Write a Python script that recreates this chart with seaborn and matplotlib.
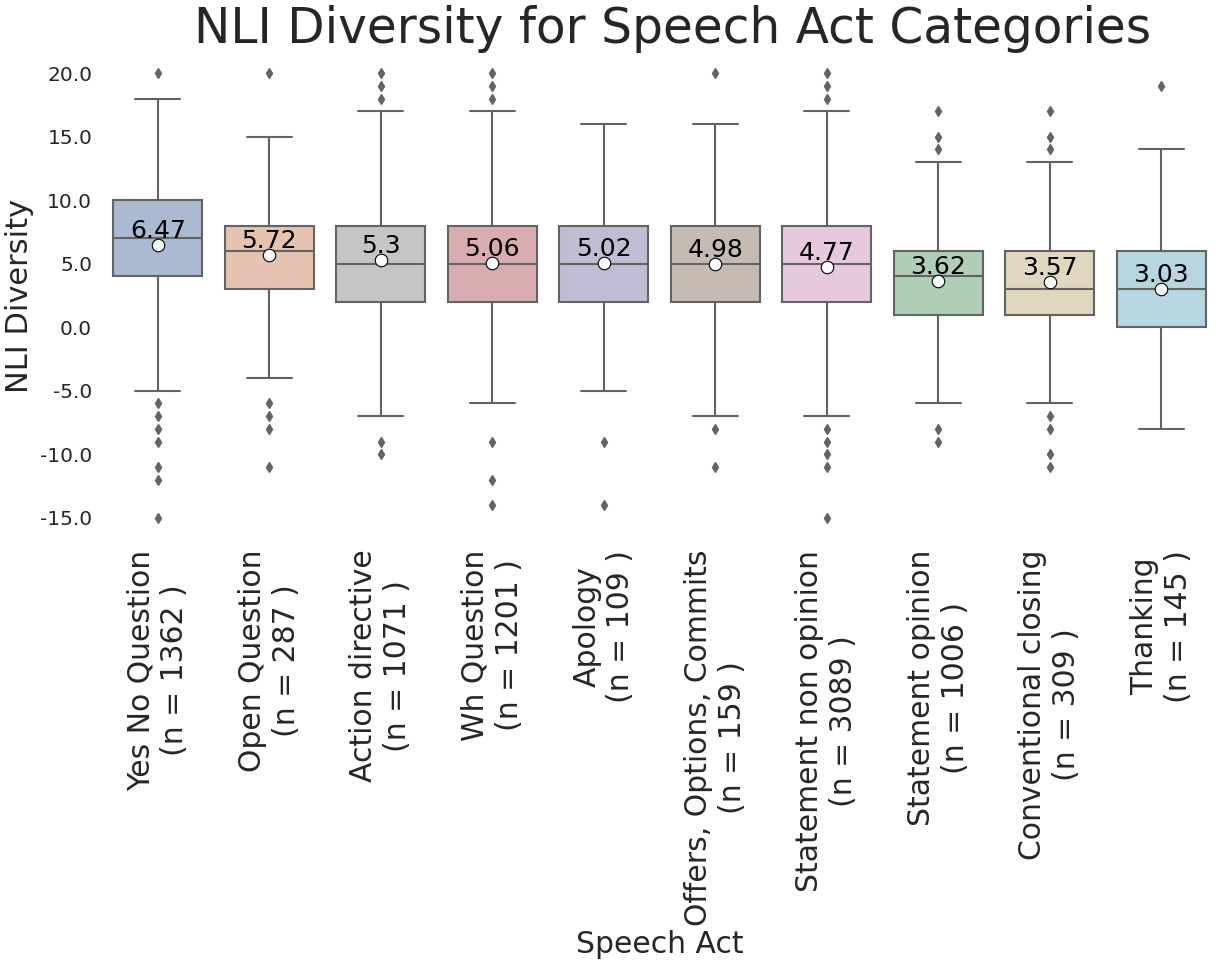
import matplotlib
matplotlib.use("Agg")
import matplotlib.pyplot as plt
from matplotlib.colors import to_rgba
import seaborn as sns

# Speech act categories and box statistics
acts = ["Yes No Question", "Open Question", "Action directive", "Wh Question",
        "Apology", "Offers, Options, Commits", "Statement non opinion",
        "Statement opinion", "Conventional closing", "Thanking"]
counts = [1362, 287, 1071, 1201, 109, 159, 3089, 1006, 309, 145]
means = [6.47, 5.72, 5.3, 5.06, 5.02, 4.98, 4.77, 3.62, 3.57, 3.03]
medians = [7, 6, 5, 5, 5, 5, 5, 4, 3, 3]
q1 = [4, 3, 2, 2, 2, 2, 2, 1, 1, 0]
q3 = [10, 8, 8, 8, 8, 8, 8, 6, 6, 6]
whisker_lo = [-5, -4, -7, -6, -5, -7, -7, -6, -6, -8]
whisker_hi = [18, 15, 17, 17, 16, 16, 17, 13, 13, 14]
outliers = [
    [20, -6, -7, -8, -9, -11, -12, -15],
    [20, -6, -7, -8, -11],
    [20, 19, 18, -9, -10],
    [20, 19, 18, -9, -12, -14],
    [-9, -14],
    [20, -8, -11],
    [20, 19, 18, -8, -9, -10, -11, -15],
    [17, 15, 14, -8, -9],
    [17, 15, 14, -7, -8, -10, -11],
    [19],
]
# which colour of the "deep" palette each box got
palette_idx = [0, 1, 7, 3, 4, 5, 6, 2, 8, 9]

sns.set_theme(style="white")
plt.rcParams["axes.unicode_minus"] = False

deep = sns.color_palette("deep")
colors = [to_rgba(sns.desaturate(deep[i], 0.75), 0.5) for i in palette_idx]
line_gray = "0.39"

stats = []
for i in range(len(acts)):
    stats.append({
        "label": f"{acts[i]}\n(n = {counts[i]} )",
        "med": medians[i], "q1": q1[i], "q3": q3[i],
        "whislo": whisker_lo[i], "whishi": whisker_hi[i],
        "fliers": outliers[i], "mean": means[i],
    })

fig = plt.figure(figsize=(12.24, 9.69), dpi=100)
ax = fig.add_axes([0.0833, 0.4427, 0.9110, 0.5047])

bp = ax.bxp(stats, positions=range(len(acts)), widths=0.8, patch_artist=True,
            showmeans=True,
            boxprops=dict(edgecolor=line_gray, linewidth=1.5),
            medianprops=dict(color=line_gray, linewidth=1.5),
            whiskerprops=dict(color=line_gray, linewidth=1.5),
            capprops=dict(color=line_gray, linewidth=1.5),
            flierprops=dict(marker="d", markerfacecolor=line_gray,
                            markeredgecolor=line_gray, markersize=5),
            meanprops=dict(marker="o", markerfacecolor="white",
                           markeredgecolor="black", markersize=9,
                           markeredgewidth=0.8))
for patch, c in zip(bp["boxes"], colors):
    patch.set_facecolor(c)

# mean labels
for i, m in enumerate(means):
    ax.annotate(f"{m}", (i, m), xytext=(0, 1.5), textcoords="offset points",
                ha="center", va="bottom", fontsize=18, color="black")

ax.set_xlim(-0.5, len(acts) - 0.5)
ax.set_ylim(-16.75, 21.75)
ax.set_yticks(range(-15, 21, 5))
ax.set_yticklabels([f"{v:.1f}" for v in range(-15, 21, 5)], fontsize=14.5)
ax.tick_params(axis="x", labelsize=21.5, labelrotation=90, pad=1)
ax.tick_params(axis="y", pad=1)
for lab in ax.get_xticklabels():
    lab.set_multialignment("center")

ax.set_title("NLI Diversity for Speech Act Categories", fontsize=35, x=0.512)
ax.set_xlabel("Speech Act", fontsize=21.5, labelpad=3)
ax.set_ylabel("NLI Diversity", fontsize=22)
sns.despine(ax=ax, left=True, bottom=True)

fig.savefig("out.png", dpi=100)
